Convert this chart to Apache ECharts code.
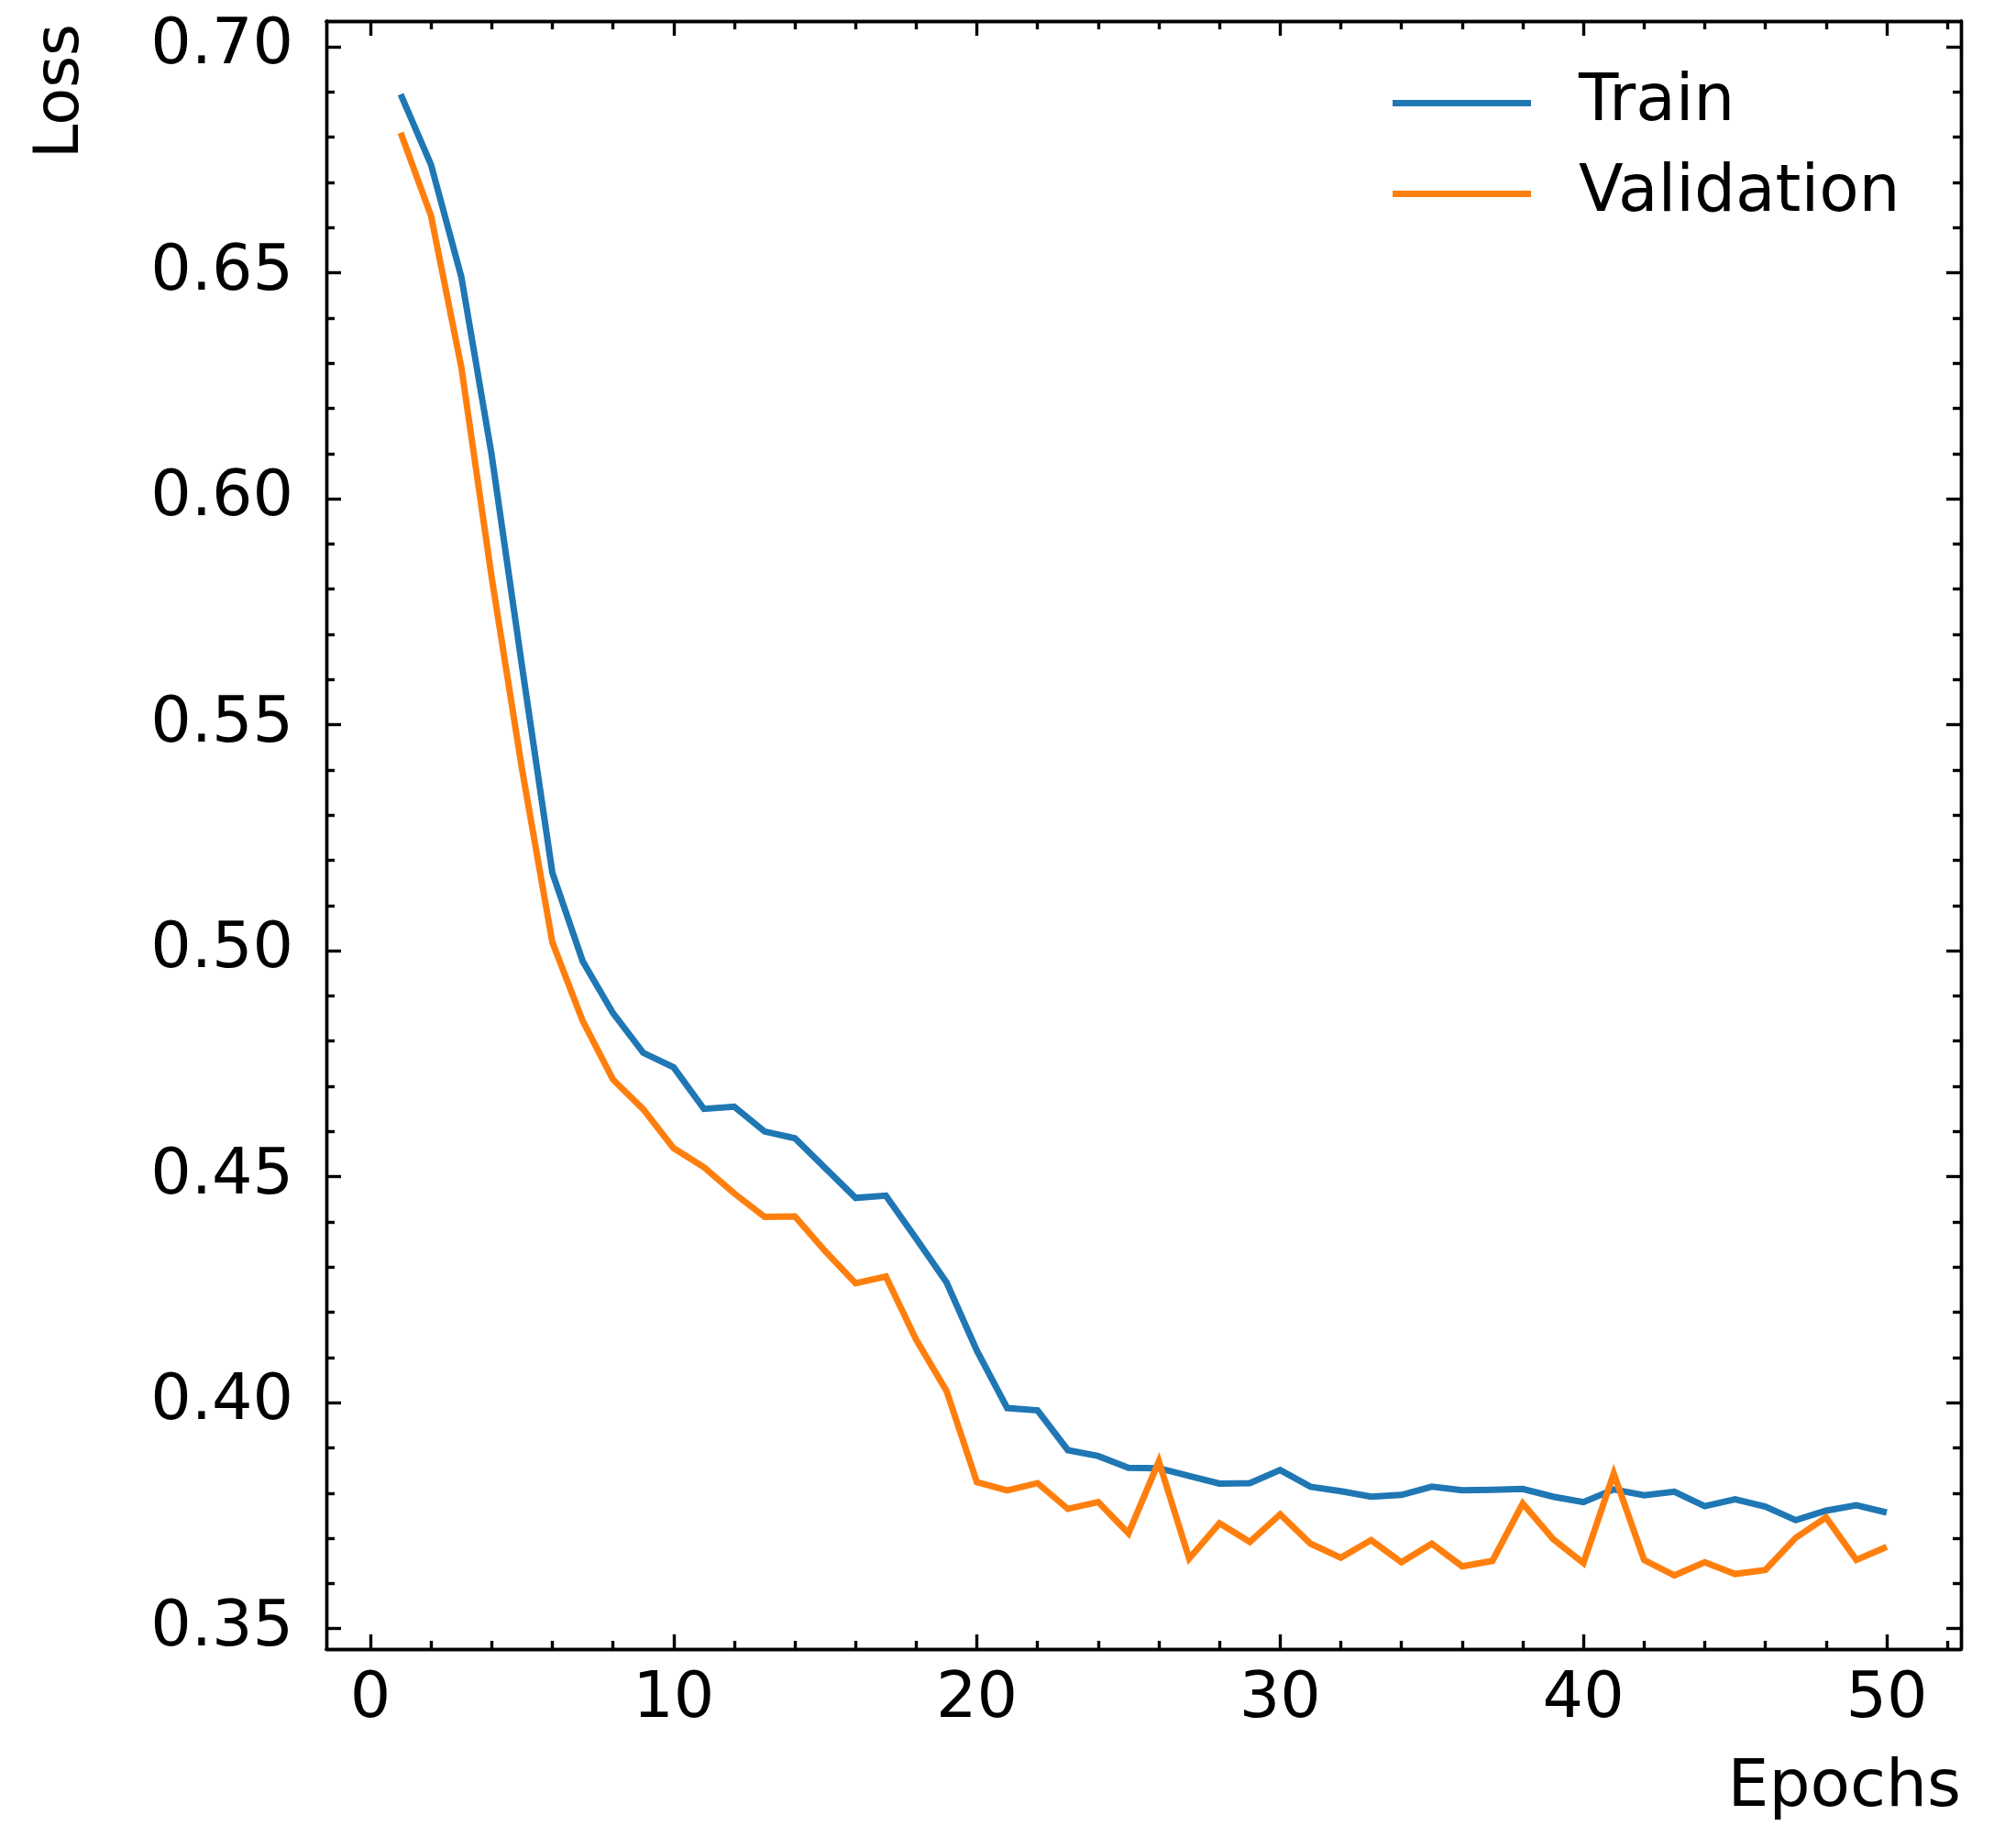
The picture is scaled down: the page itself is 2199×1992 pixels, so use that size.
<!DOCTYPE html>
<html>
<head>
<meta charset="utf-8">
<script src="https://cdn.jsdelivr.net/npm/echarts@6/dist/echarts.min.js"></script>
<style>
  html, body { margin: 0; padding: 0; background: #ffffff; }
  #chart { width: 2199px; height: 1992px; }
</style>
</head>
<body>
<div id="chart"></div>
<script>
const epochs = [1,2,3,4,5,6,7,8,9,10,11,12,13,14,15,16,17,18,19,20,21,22,23,24,25,26,27,28,29,30,31,32,33,34,35,36,37,38,39,40,41,42,43,44,45,46,47,48,49,50];
const trainLoss = [0.6895,0.6739,0.6491,0.6097,0.5630,0.5173,0.4977,0.4862,0.4774,0.4742,
                   0.4650,0.4655,0.4600,0.4585,0.4519,0.4453,0.4458,0.4363,0.4266,0.4115,
                   0.3988,0.3983,0.3895,0.3882,0.3856,0.3855,0.3838,0.3821,0.3822,0.3851,
                   0.3814,0.3804,0.3792,0.3796,0.3814,0.3806,0.3807,0.3809,0.3792,0.3780,
                   0.3808,0.3795,0.3803,0.3771,0.3786,0.3770,0.3740,0.3761,0.3773,0.3757];
const valLoss = [0.6810,0.6626,0.6291,0.5826,0.5402,0.5019,0.4845,0.4715,0.4649,0.4563,
                 0.4521,0.4463,0.4411,0.4412,0.4335,0.4264,0.4279,0.4139,0.4026,0.3824,
                 0.3806,0.3822,0.3765,0.3780,0.3711,0.3870,0.3655,0.3733,0.3692,0.3753,
                 0.3688,0.3657,0.3696,0.3647,0.3688,0.3638,0.3650,0.3777,0.3698,0.3645,
                 0.3843,0.3652,0.3618,0.3647,0.3621,0.3630,0.3701,0.3746,0.3652,0.3681];
const seriesNames = ['Train', 'Validation'];
const xMajorTicks = [0, 10, 20, 30, 40, 50];
const xMinorTicks = [2,4,6,8,12,14,16,18,22,24,26,28,32,34,36,38,42,44,46,48,52];
const yMajorTicks = [0.35, 0.40, 0.45, 0.50, 0.55, 0.60, 0.65, 0.70];
const yMinorTicks = [0.36,0.37,0.38,0.39,0.41,0.42,0.43,0.44,0.46,0.47,0.48,0.49,
                     0.51,0.52,0.53,0.54,0.56,0.57,0.58,0.59,0.61,0.62,0.63,0.64,
                     0.66,0.67,0.68,0.69];
const xLabel = 'Epochs';
const yLabel = 'Loss';

const FONT = 'DejaVu Sans';
const FS_TICK = 70;
const FS_TEXT = 71;
const FS_YLABEL = 67;
const LW = 3.4;
const xMin = -1.45, xMax = 52.45;
const yMin = 0.34548, yMax = 0.70568;

function xAxisDef(pos, ticks, len, withLabels) {
  return {
    type: 'value', position: pos, min: xMin, max: xMax,
    axisLine: { show: true, onZero: false, lineStyle: { color: '#000', width: LW } },
    axisTick: { show: true, inside: true, length: len, customValues: ticks, lineStyle: { color: '#000', width: LW } },
    axisLabel: withLabels ? { show: true, customValues: ticks, margin: 21, color: '#000', fontFamily: FONT, fontSize: FS_TICK } : { show: false },
    splitLine: { show: false }
  };
}
function yAxisDef(pos, ticks, len, withLabels) {
  return {
    type: 'value', position: pos, min: yMin, max: yMax,
    axisLine: { show: true, onZero: false, lineStyle: { color: '#000', width: LW } },
    axisTick: { show: true, inside: true, length: len, customValues: ticks, lineStyle: { color: '#000', width: LW } },
    axisLabel: withLabels ? { show: true, customValues: ticks, margin: 36, color: '#000', fontFamily: FONT, fontSize: FS_TICK,
                              formatter: v => v.toFixed(2) } : { show: false },
    splitLine: { show: false }
  };
}

const chart = echarts.init(document.getElementById('chart'), null, { renderer: 'canvas' });
chart.setOption({
  animation: false,
  backgroundColor: '#ffffff',
  grid: { left: 356, top: 23, width: 1783, height: 1776, containLabel: false, outerBoundsMode: 'none' },
  legend: {
    data: seriesNames,
    orient: 'vertical',
    left: 1519, top: 77, padding: 0,
    icon: 'rect', itemWidth: 151, itemHeight: 7, itemGap: 28,
    textStyle: { fontFamily: FONT, fontSize: FS_TEXT, color: '#000', lineHeight: 71, padding: [0, 0, 0, 47] }
  },
  graphic: [
    { type: 'text', x: 2139, y: 1916, silent: true,
      style: { text: xLabel, fontFamily: FONT, fontSize: FS_TEXT, fill: '#000', align: 'right', verticalAlign: 'top' } },
    { type: 'text', x: 34, y: 26, rotation: Math.PI / 2, silent: true,
      style: { text: yLabel, fontFamily: FONT, fontSize: FS_YLABEL, fill: '#000', align: 'right', verticalAlign: 'top' } }
  ],
  xAxis: [
    xAxisDef('bottom', xMajorTicks, 16, true),
    xAxisDef('bottom', xMinorTicks, 9, false),
    xAxisDef('top', xMajorTicks, 16, false),
    xAxisDef('top', xMinorTicks, 9, false)
  ],
  yAxis: [
    yAxisDef('left', yMajorTicks, 16, true),
    yAxisDef('left', yMinorTicks, 9, false),
    yAxisDef('right', yMajorTicks, 16, false),
    yAxisDef('right', yMinorTicks, 9, false)
  ],
  series: [
    {
      name: seriesNames[0], type: 'line', xAxisIndex: 0, yAxisIndex: 0,
      data: epochs.map((e, i) => [e, trainLoss[i]]),
      symbol: 'none', showSymbol: false,
      itemStyle: { color: '#1f77b4' },
      lineStyle: { color: '#1f77b4', width: 7, join: 'miter' },
      z: 3
    },
    {
      name: seriesNames[1], type: 'line', xAxisIndex: 0, yAxisIndex: 0,
      data: epochs.map((e, i) => [e, valLoss[i]]),
      symbol: 'none', showSymbol: false,
      itemStyle: { color: '#ff7f0e' },
      lineStyle: { color: '#ff7f0e', width: 7, join: 'miter' },
      z: 4
    }
  ]
});
</script>
</body>
</html>
